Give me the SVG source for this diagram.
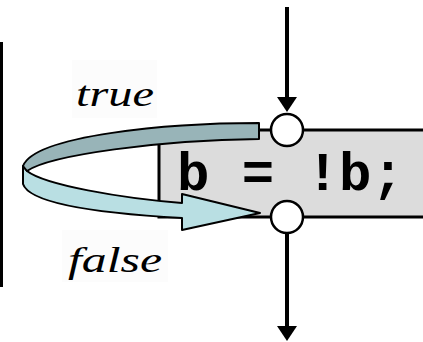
<svg xmlns="http://www.w3.org/2000/svg" width="423" height="342" viewBox="0 0 423 342">
  <style>
    .flow { stroke: #000; stroke-width: 4; fill: none; marker-end: url(#head); }
    .join { fill: #fff; stroke: #000; stroke-width: 2.5; }
    .band { stroke: #000; stroke-width: 2; stroke-linejoin: round; }
    .hand { font-family: "Liberation Serif", "DejaVu Serif", serif; font-style: italic; font-size: 36px; fill: #000; }
    .code { font-family: "Liberation Mono", "DejaVu Sans Mono", monospace; font-weight: bold; font-size: 54px; fill: #000; }
  </style>
  <defs>
    <marker id="head" viewBox="0 0 15 20" refX="3" refY="10" markerWidth="15" markerHeight="20" markerUnits="userSpaceOnUse" orient="auto">
      <path d="M0,0 L15,10 L0,20 Z" fill="#000"/>
    </marker>
  </defs>
  <rect width="423" height="342" fill="#fff"/>
  <rect x="0" y="42" width="3" height="245" fill="#000"/>
  <g id="label-true">
    <rect x="72" y="60" width="85" height="58" fill="#fcfcfc"/>
    <text class="hand" x="76" y="106" textLength="78" lengthAdjust="spacingAndGlyphs">true</text>
  </g>
  <g id="label-false">
    <rect x="62" y="230" width="106" height="52" fill="#fcfcfc"/>
    <text class="hand" x="68" y="272" textLength="94" lengthAdjust="spacingAndGlyphs">false</text>
  </g>
  <g id="assign">
    <rect x="159" y="130" width="280" height="87" fill="#dcdcdc" stroke="#000" stroke-width="3"/>
    <text class="code" x="177" y="190">b = !b;</text>
  </g>
  <g id="connectors">
    <line class="flow" x1="287" y1="7" x2="287" y2="100"/>
    <line class="flow" x1="287" y1="234" x2="287" y2="329"/>
    <g id="loop">
      <path class="band" fill="#b9dfe3" d="M23,166 L23,184 C30,205 110,214 182,218 L182,230 L260,213 L182,194 L182,203 C120,198 45,185 27,171 Z"/>
      <path class="band" fill="#98b4b8" d="M259,123 L259,139 C160,140 50,155 27,171 L23,166 C35,135 170,123 259,123 Z"/>
    </g>
  </g>
  <g id="join-top">
    <circle class="join" cx="287" cy="130" r="16"/>
  </g>
  <g id="join-bottom">
    <circle class="join" cx="287" cy="217" r="16"/>
  </g>
</svg>
